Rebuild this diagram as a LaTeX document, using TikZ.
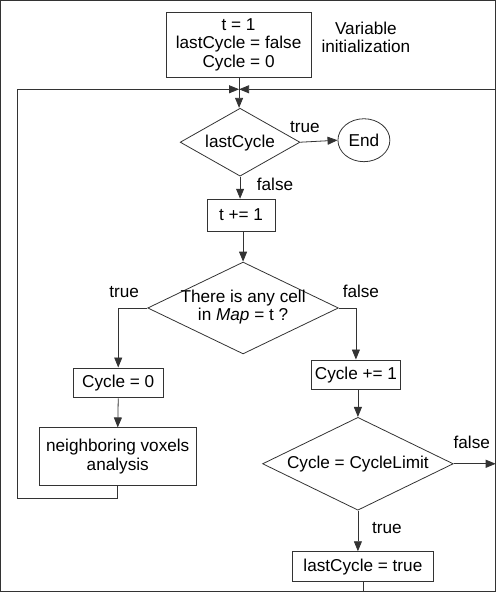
\documentclass[tikz,border=0pt]{standalone}
\usepackage{fontspec}
\setmainfont{Liberation Sans}
\usetikzlibrary{shapes.geometric,arrows.meta}
\begin{document}
\begin{tikzpicture}[x=1pt,y=-1pt,
  font=\fontsize{17.2}{18.8}\selectfont,
  every path/.style={draw=black!80,line width=0.8pt},
  box/.style={draw=black!80,line width=0.8pt,rectangle,inner sep=0pt,align=center},
  dia/.style={draw=black!80,line width=0.8pt,diamond,inner sep=0pt},
  oval/.style={draw=black!80,line width=0.8pt,ellipse,inner sep=0pt},
  txt/.style={inner sep=0pt,align=center},
  arr/.style={-{Triangle[length=10pt,width=8pt]}},
]
\useasboundingbox (0,0) rectangle (496,592);
% nodes
\node[box,minimum width=145pt,minimum height=65pt] (init) at (238.5,44.5) {t = 1\\lastCycle = false\\Cycle = 0};
\node[txt] (note) at (366,37) {Variable\\initialization};
\node[dia,minimum width=120pt,minimum height=68pt] (d1) at (240,142) {};
\node[txt] (d1t) at (240,143) {lastCycle};
\node[oval,minimum width=52pt,minimum height=43pt] (end) at (364,140) {End};
\node[box,minimum width=68pt,minimum height=32pt] (t1) at (241,215) {t += 1};
\node[dia,minimum width=191pt,minimum height=92pt] (d2) at (243,308) {};
\node[txt] (d2t) at (243,307) {There is any cell\\in \textit{Map} = t ?};
\node[box,minimum width=90pt,minimum height=30pt] (c0) at (118,383) {Cycle = 0};
\node[box,minimum width=90pt,minimum height=30pt] (c1) at (356,375) {Cycle += 1};
\node[box,minimum width=157pt,minimum height=58pt] (neigh) at (117.5,457) {neighboring voxels\\analysis};
\node[dia,minimum width=191pt,minimum height=93pt] (d3) at (358,464) {};
\node[txt] (d3t) at (358,464) {Cycle = CycleLimit};
\node[box,minimum width=142pt,minimum height=30pt] (lc) at (363,567) {lastCycle = true};
% labels
\node[txt] (l1) at (305,127) {true};
\node[txt] (l2) at (275,184) {false};
\node[txt] (l3) at (124,292) {true};
\node[txt] (l4) at (361,291) {false};
\node[txt] (l5) at (472,443) {false};
\node[txt] (l6) at (387,528) {true};
% coordinates
\coordinate (j) at (239,89);
\coordinate (lb) at (17,499);
\coordinate (re) at (496,89);
\coordinate (fe) at (496,464);
\coordinate (be) at (363,592);
% connectors
\draw[arr] (init.south -| j) -- (d1.north -| j);
\draw[arr] (neigh.south) |- (lb) |- (j);
\draw[arr] (re) -- (j);
\draw[arr] (d1.east) -- (end.west);
\draw[arr] (d1.south -| 240,0) -- (t1.north -| 240,0);
\draw[arr] (t1.south -| 243,0) -- (d2.north);
\draw[arr] (d2.west) -| (c0.north);
\draw[arr] (d2.east) -| (c1.north);
\draw[arr] (c0.south) -- (neigh.north);
\draw[arr] (c1.south -| d3.north) -- (d3.north);
\draw[arr] (d3.east) -- (fe);
\draw[arr] (d3.south) -- (lc.north -| d3.south);
\draw (lc.south -| be) -- (be);
\end{tikzpicture}
\end{document}
